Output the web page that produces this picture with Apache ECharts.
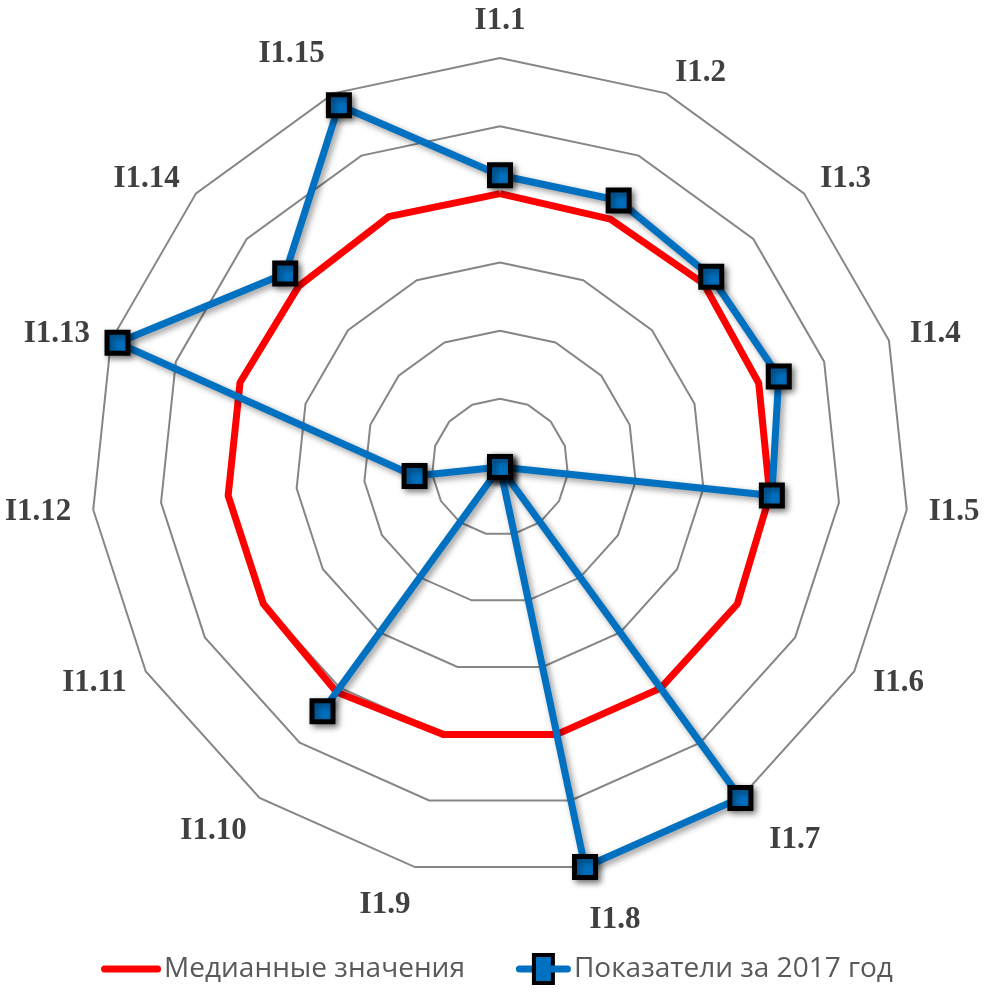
<!DOCTYPE html>
<html>
<head>
<meta charset="utf-8">
<title>Radar I1</title>
<script src="https://cdn.jsdelivr.net/npm/echarts@6/dist/echarts.min.js"></script>
<style>
  html, body { margin: 0; padding: 0; background: #fff; }
  #chart { width: 989px; height: 992px; }
</style>
</head>
<body>
<div id="chart"></div>
<script>
// indicator names, clockwise from the top
const indicators = ['I1.1', 'I1.2', 'I1.3', 'I1.4', 'I1.5', 'I1.6', 'I1.7', 'I1.8',
  'I1.9', 'I1.10', 'I1.11', 'I1.12', 'I1.13', 'I1.14', 'I1.15'];

const seriesNames = ['Медианные значения', 'Показатели за 2017 год'];

const medianValues = [4.01, 3.98, 4.02, 3.99, 3.98, 4.02, 4.01, 4.01, 4.01, 4.08, 4.01, 4.01, 4.01, 3.97, 4.02];
const values2017 = [4.28, 4.28, 4.17, 4.30, 4.01, 0, 6.0, 6.0, 0, 4.43, 0, 1.26, 5.9, 4.24, 5.81];

const axisMax = 6;
const ringCount = 6;

// echarts lays radar axes out counter-clockwise; keep the first one on top
// and reverse the rest so the chart reads clockwise like the original
const cw = (arr) => [arr[0]].concat(arr.slice(1).reverse());

// Excel pushes the lower labels a bit further out than echarts does
const nameFont = {
  color: '#404040',
  fontFamily: 'Liberation Serif, Times New Roman, serif',
  fontWeight: 'bold',
  fontSize: 31,
};
const namePad = {
  'I1.7': [48, 0, 0, 16],
  'I1.8': [62, 0, 0, 0],
  'I1.9': [33, 0, 0, 0],
  'I1.10': [30, 0, 0, 0],
  'I1.15': [0, 0, 38, 0],
};
const nameRich = {};
Object.keys(namePad).forEach((k, i) => {
  nameRich['p' + i] = Object.assign({ padding: namePad[k] }, nameFont);
});

const option = {
  backgroundColor: '#fff',
  animation: false,
  legend: {
    bottom: 2,
    left: 'center',
    itemWidth: 0,
    itemHeight: 26,
    itemGap: 46,
    data: [
      { name: seriesNames[0], icon: 'none' },
      { name: seriesNames[1], icon: 'none' },
    ],
    formatter: (name) => {
      if (name === seriesNames[0]) {
        return '{redBar|\u00a0}{txt|' + name + '}';
      }
      return '{blueL|\u00a0}{box|\u00a0}{blueR|\u00a0}{txt|' + name + '}';
    },
    textStyle: {
      rich: {
        redBar: { width: 60, height: 7, backgroundColor: '#FF0000', borderRadius: 3.5 },
        blueL: { width: 20, height: 7, backgroundColor: '#0070C0', borderRadius: [3.5, 0, 0, 3.5] },
        box: { width: 15, height: 24, backgroundColor: '#0070C0', borderColor: '#000', borderWidth: 4 },
        blueR: { width: 20, height: 7, backgroundColor: '#0070C0', borderRadius: [0, 3.5, 3.5, 0] },
        txt: {
          fontSize: 28,
          color: '#595959',
          fontFamily: 'Open Sans, sans-serif',
          padding: [0, 0, 0, 3],
        },
      },
    },
  },
  radar: {
    center: [500, 467],
    radius: 409,
    startAngle: 90,
    shape: 'polygon',
    splitNumber: ringCount,
    indicator: cw(indicators).map((name) => ({ name, min: 0, max: axisMax })),
    axisName: Object.assign({}, nameFont, {
      formatter: (name) => {
        const i = Object.keys(namePad).indexOf(name);
        return i < 0 ? name : '{p' + i + '|' + name + '}';
      },
      rich: nameRich,
    }),
    nameGap: 22,
    axisLine: { show: false },
    axisTick: { show: false },
    axisLabel: { show: false },
    splitArea: { show: false },
    splitLine: {
      lineStyle: { color: '#868686', width: 2 },
    },
  },
  series: [
    {
      name: seriesNames[0],
      type: 'radar',
      symbol: 'none',
      z: 2,
      lineStyle: { color: '#FF0000', width: 7, join: 'round' },
      itemStyle: { color: '#FF0000' },
      data: [{ name: seriesNames[0], value: cw(medianValues) }],
    },
    {
      name: seriesNames[1],
      type: 'radar',
      symbol: 'rect',
      symbolSize: 21,
      z: 3,
      lineStyle: {
        color: '#0070C0',
        width: 7,
        shadowBlur: 6,
        shadowColor: 'rgba(0,0,0,0.4)',
        shadowOffsetX: 3,
        shadowOffsetY: 3,
      },
      itemStyle: {
        color: '#0070C0',
        borderColor: '#000',
        borderWidth: 5,
        shadowBlur: 6,
        shadowColor: 'rgba(0,0,0,0.45)',
        shadowOffsetX: 3,
        shadowOffsetY: 3,
      },
      data: [{ name: seriesNames[1], value: cw(values2017) }],
    },
  ],
};

const myChart = echarts.init(document.getElementById('chart'), null, { renderer: 'canvas' });
myChart.setOption(option);
</script>
</body>
</html>
